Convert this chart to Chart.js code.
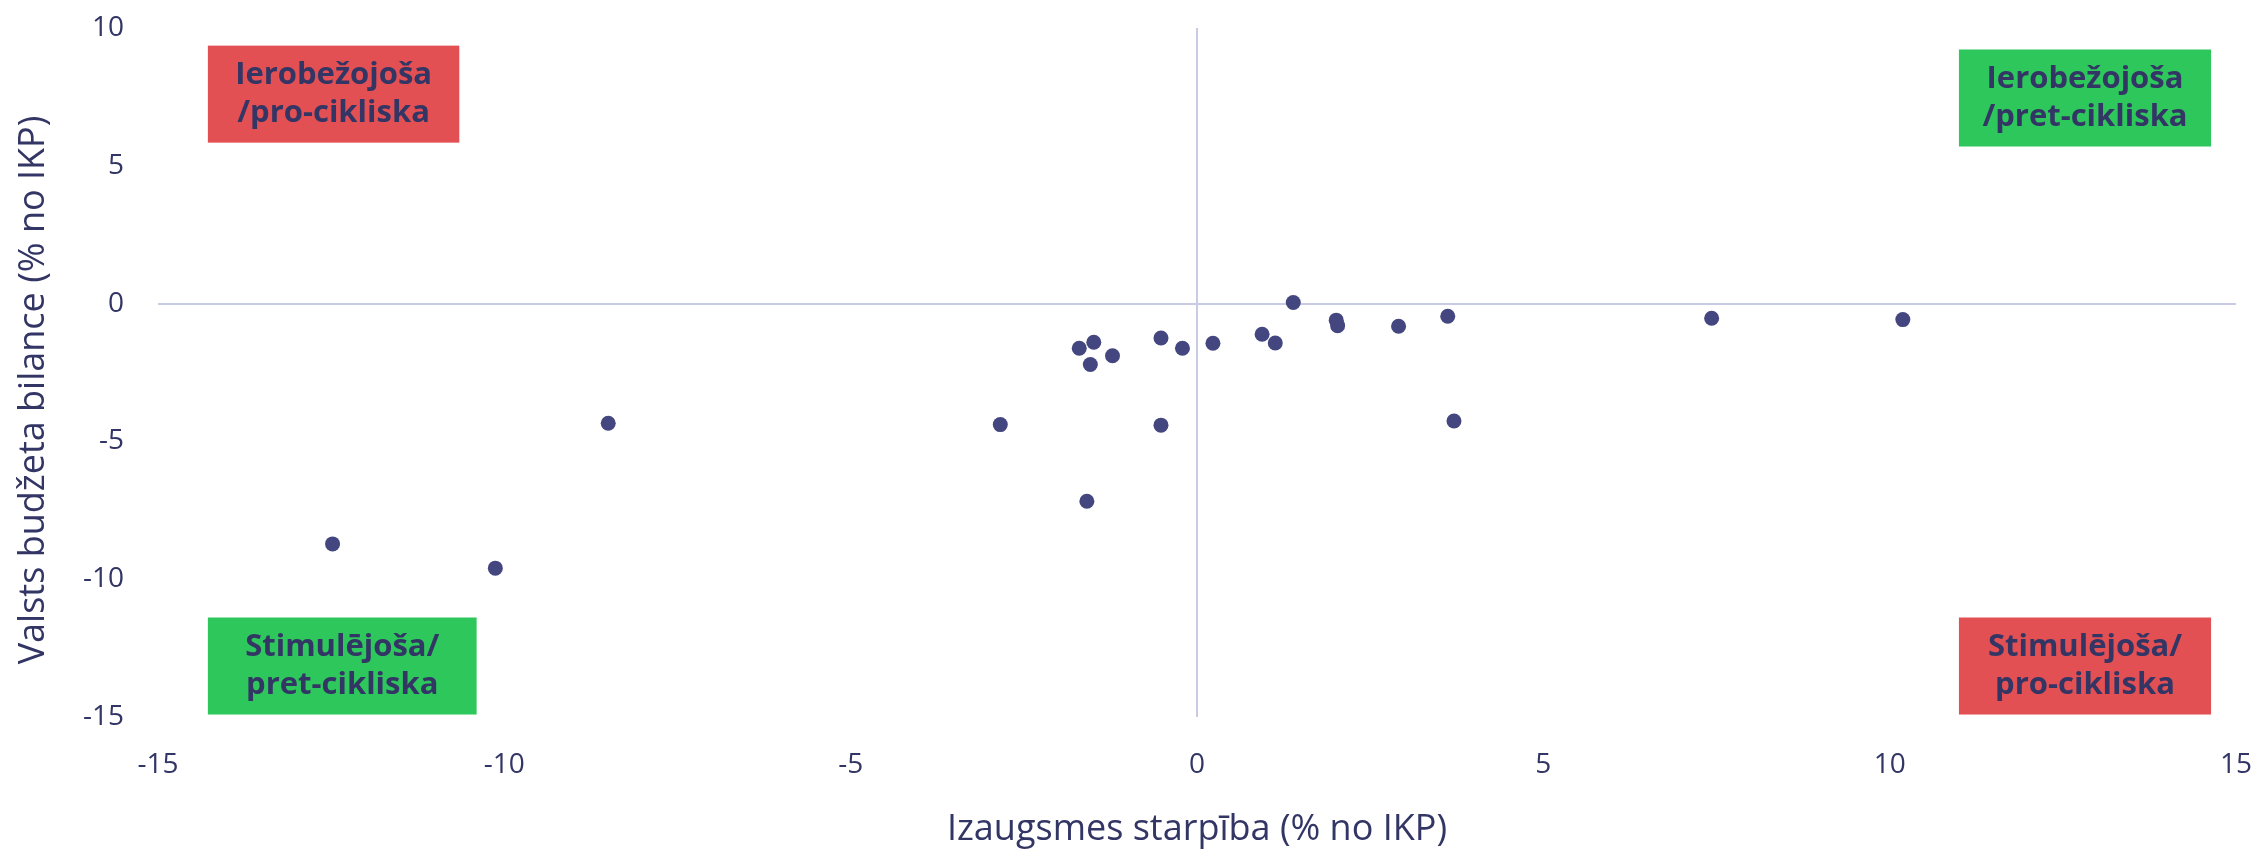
<!DOCTYPE html>
<html>
<head>
<meta charset="utf-8">
<script src="https://cdn.jsdelivr.net/npm/chart.js@4.4.1/dist/chart.umd.min.js"></script>
<style>
  html, body { margin: 0; padding: 0; background: #ffffff; }
  #wrap { width: 2257px; height: 851px; }
</style>
</head>
<body>
<div id="wrap"><canvas id="scatter_chart"></canvas></div>
<script>
// output gap (x) and budget balance (y), % of GDP
var gap_x = [-12.48, -10.13, -8.50, -2.84, -1.70, -1.49, -1.54, -1.22, -0.52, -0.21, -0.52, -1.59,
  0.23, 0.94, 1.13, 1.39, 2.01, 2.03, 2.91, 3.62, 3.71, 7.43, 10.19];
var balance_y = [-8.72, -9.60, -4.34, -4.39, -1.62, -1.40, -2.21, -1.89, -1.25, -1.62, -4.41, -7.17,
  -1.44, -1.11, -1.43, 0.04, -0.60, -0.80, -0.82, -0.46, -4.26, -0.53, -0.58];

// axis ranges / tick step
var x_range = [-15, 15];
var y_range = [-15, 10];
var tick_step = 5;

// quadrant labels
var quad_labels = [
  ["Ierobežojoša", "/pro-cikliska"],
  ["Ierobežojoša", "/pret-cikliska"],
  ["Stimulējoša/", "pret-cikliska"],
  ["Stimulējoša/", "pro-cikliska"]
];

var x_title = "Izaugsmes starpība (% no IKP)";
var y_title = "Valsts budžeta bilance (% no IKP)";

var navy = "#333665";
var dot_color = "#44477f";
var zero_color = "#c9cae4";
var red = "#e35053";
var green = "#2dc75c";

// boxes in axis units: [x1, x2, y1, y2, color]
var quad_boxes = [
  [-14.28, -10.65, 9.36, 5.84, red],
  [11.0, 14.64, 9.22, 5.70, green],
  [-14.28, -10.40, -11.39, -14.91, green],
  [11.0, 14.64, -11.39, -14.91, red]
];

const quadrantPlugin = {
  id: "quadrants",
  afterDatasetsDraw(chart) {
    const ctx = chart.ctx;
    const xs = chart.scales.x;
    const ys = chart.scales.y;
    ctx.save();
    quad_boxes.forEach((b, i) => {
      const x1 = xs.getPixelForValue(b[0]);
      const x2 = xs.getPixelForValue(b[1]);
      const y1 = ys.getPixelForValue(b[2]);
      const y2 = ys.getPixelForValue(b[3]);
      ctx.fillStyle = b[4];
      ctx.fillRect(x1, y1, x2 - x1, y2 - y1);
      ctx.fillStyle = navy;
      ctx.font = "bold 31px 'Open Sans'";
      ctx.textAlign = "center";
      ctx.textBaseline = "middle";
      const cx = (x1 + x2) / 2;
      const cy = (y1 + y2) / 2;
      ctx.fillText(quad_labels[i][0], cx, cy - 19);
      ctx.fillText(quad_labels[i][1], cx, cy + 19);
    });
    // y axis title, sits a little below the middle of the plot like the original
    ctx.translate(34, 390);
    ctx.rotate(-Math.PI / 2);
    ctx.font = "36px 'Open Sans'";
    ctx.fillText(y_title, 0, 0);
    ctx.restore();
  }
};

// show only the zero lines
function zeroLine(c) {
  return c.tick && c.tick.value === 0 ? zero_color : "rgba(0,0,0,0)";
}

const points = gap_x.map((v, i) => ({ x: v, y: balance_y[i] }));

const ctx = document.getElementById("scatter_chart").getContext("2d");
const chart = new Chart(ctx, {
  type: "scatter",
  data: {
    datasets: [
      {
        data: points,
        backgroundColor: dot_color,
        borderColor: dot_color,
        borderWidth: 0,
        pointRadius: 7.5,
        pointHoverRadius: 7.5,
      },
    ],
  },
  options: {
    responsive: true,
    maintainAspectRatio: false,
    animation: false,
    events: [],
    layout: { padding: { top: 28, right: 21, bottom: 0, left: 0 } },
    plugins: {
      legend: { display: false },
      tooltip: { enabled: false },
    },
    scales: {
      x: {
        type: "linear",
        min: x_range[0],
        max: x_range[1],
        border: { display: false },
        grid: { color: zeroLine, lineWidth: 2, drawTicks: false },
        ticks: {
          stepSize: tick_step,
          padding: 31,
          color: navy,
          font: { family: "'Open Sans'", size: 28 },
        },
        title: {
          display: true,
          text: x_title,
          color: navy,
          font: { family: "'Open Sans'", size: 36 },
          padding: { top: 0, bottom: 0 },
        },
        afterFit(s) {
          s.height = 134;
          s.paddingLeft = 0;
          s.paddingRight = 0;
        },
      },
      y: {
        type: "linear",
        min: y_range[0],
        max: y_range[1],
        border: { display: false },
        grid: { color: zeroLine, lineWidth: 2, drawTicks: false },
        ticks: {
          stepSize: tick_step,
          padding: 34,
          color: navy,
          font: { family: "'Open Sans'", size: 28 },
        },
        title: { display: false },
        afterFit(s) {
          s.width = 158;
          s.paddingTop = 0;
          s.paddingBottom = 0;
        },
      },
    },
  },
  plugins: [quadrantPlugin],
});
</script>
</body>
</html>
